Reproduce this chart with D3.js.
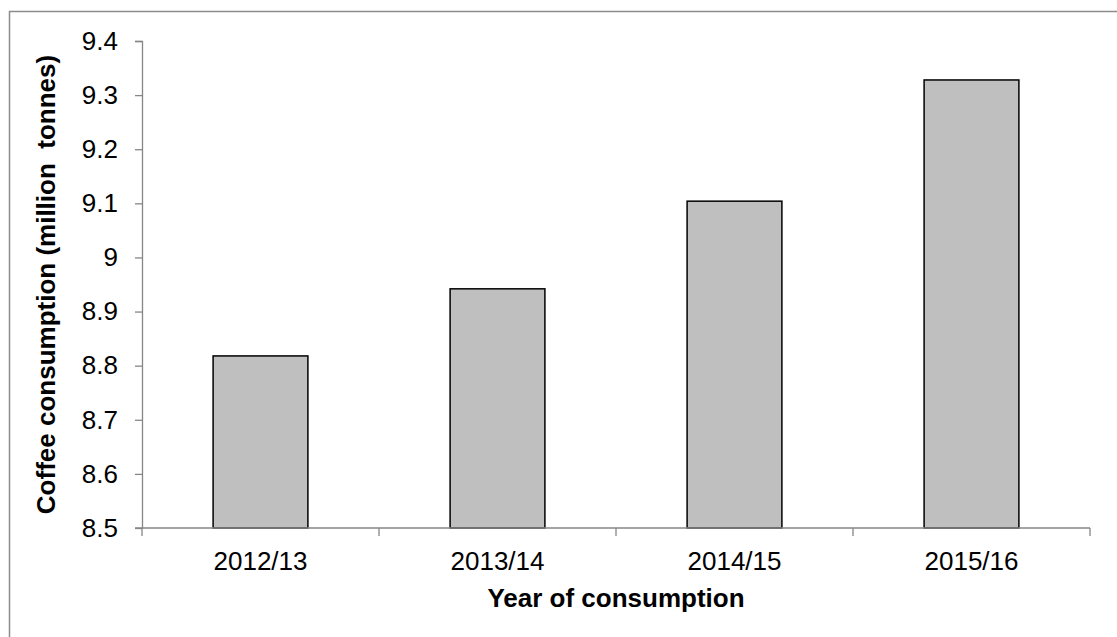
<!DOCTYPE html>
<html>
<head>
<meta charset="utf-8">
<script src="https://cdn.jsdelivr.net/npm/d3@7"></script>
<style>
  html, body { margin: 0; padding: 0; background: #fff; }
  svg { display: block; }
  text { font-family: "Liberation Sans", Arial, sans-serif; fill: #000; }
</style>
</head>
<body>
<svg id="chart" width="1117" height="637"></svg>
<script>
// Coffee consumption by season
const seasons = ["2012/13", "2013/14", "2014/15", "2015/16"];
const consumption = [8.818, 8.942, 9.104, 9.328];
const yTicks = [8.5, 8.6, 8.7, 8.8, 8.9, 9, 9.1, 9.2, 9.3, 9.4];
const xTitle = "Year of consumption";
const yTitle = "Coffee consumption (million\u00a0 tonnes)";

const svg = d3.select("#chart");
const margin = { left: 142, right: 27, top: 41, bottom: 109 };
const W = 1117, H = 637;
const plotW = W - margin.left - margin.right;
const plotH = H - margin.top - margin.bottom;
const fontSize = "26px";

// outer frame (runs off the right and bottom edges)
svg.append("rect")
  .attr("x", 9.5).attr("y", 11.5)
  .attr("width", W + 10).attr("height", H + 10)
  .attr("fill", "none").attr("stroke", "#8c8c8c").attr("stroke-width", 1.5);

const g = svg.append("g").attr("transform", `translate(${margin.left},${margin.top})`);

const x = d3.scaleBand().domain(seasons).range([0, plotW])
  .paddingInner(0.6).paddingOuter(0.3);
const y = d3.scaleLinear().domain([8.5, 9.4]).range([plotH, 0]);

// bars
g.selectAll("rect.bar").data(seasons).join("rect")
  .attr("class", "bar")
  .attr("x", d => x(d))
  .attr("width", x.bandwidth())
  .attr("y", (d, i) => y(consumption[i]))
  .attr("height", (d, i) => y(8.5) - y(consumption[i]))
  .attr("fill", "#bfbfbf")
  .attr("stroke", "#000").attr("stroke-width", 1.5);

// y axis
const yAxis = g.append("g")
  .call(d3.axisLeft(y).tickValues(yTicks).tickSize(7).tickPadding(17)
    .tickFormat(d => d3.format("")(+d.toFixed(1))));
yAxis.select(".domain").attr("stroke", "#868686").attr("stroke-width", 1.3)
  .attr("d", `M-7,0.5H0.5V${plotH}H-7`);
yAxis.selectAll(".tick line").attr("stroke", "#868686").attr("stroke-width", 1.3);
yAxis.selectAll(".tick text")
  .attr("font-size", null).attr("font-family", null)
  .style("font-size", fontSize)
  .style("font-family", "'Liberation Sans', Arial, sans-serif");
yAxis.attr("font-size", null).attr("font-family", null);

// x axis with ticks at category boundaries
const xAxisG = g.append("g").attr("transform", `translate(0,${plotH})`);
xAxisG.append("line").attr("x1", 0).attr("x2", plotW).attr("y1", 0).attr("y2", 0)
  .attr("stroke", "#868686").attr("stroke-width", 1.3);
const step = x.step();
const boundaries = d3.range(seasons.length + 1).map(i => i * step);
xAxisG.selectAll("line.tick").data(boundaries).join("line")
  .attr("class", "tick")
  .attr("x1", d => d).attr("x2", d => d).attr("y1", 0).attr("y2", 8)
  .attr("stroke", "#868686").attr("stroke-width", 1.3);
xAxisG.selectAll("text.lbl").data(seasons).join("text")
  .attr("class", "lbl")
  .attr("x", d => x(d) + x.bandwidth() / 2)
  .attr("y", 42)
  .attr("text-anchor", "middle")
  .style("font-size", fontSize)
  .text(d => d);

// axis titles
svg.append("text")
  .attr("x", margin.left + plotW / 2)
  .attr("y", 607)
  .attr("text-anchor", "middle")
  .style("font-size", fontSize).style("font-weight", "bold")
  .text(xTitle);

svg.append("text")
  .attr("transform", `translate(55,${margin.top + plotH / 2}) rotate(-90)`)
  .attr("text-anchor", "middle")
  .style("font-size", fontSize).style("font-weight", "bold")
  .text(yTitle);
</script>
</body>
</html>
